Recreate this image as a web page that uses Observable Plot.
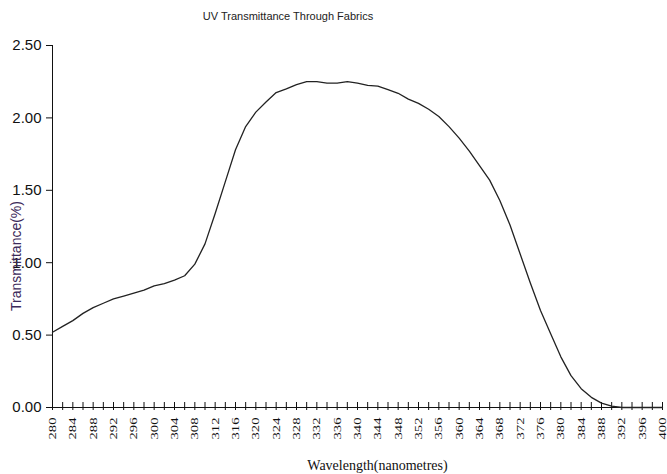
<!DOCTYPE html>
<html>
<head>
<meta charset="utf-8">
<script src="https://cdn.jsdelivr.net/npm/d3@7"></script>
<script src="https://cdn.jsdelivr.net/npm/@observablehq/plot@0.6"></script>
<style>
  body { margin: 0; background: #fff; }
  #wrap { position: relative; width: 667px; height: 474px; overflow: hidden; }
  #title { position: absolute; top: 10px; left: 0; width: 576px; text-align: center;
           font: 11px "Liberation Sans", Arial, sans-serif; color: #222; }
  #chart { position: absolute; top: 30px; left: 0; }
  #ylabel { position: absolute; left: 16px; top: 256px; white-space: nowrap;
            transform: translate(-50%, -50%) rotate(-90deg);
            font: 14px "Liberation Sans", Arial, sans-serif; color: #3c2a5a; line-height: 1; }
</style>
</head>
<body>
<div id="wrap">
  <div id="title"></div>
  <div id="chart"></div>
  <div id="ylabel"></div>
</div>
<script>
const chartTitle = "UV Transmittance Through Fabrics";
const xLabel = "Wavelength(nanometres)";
const yLabel = "Transmittance(%)";

const wavelengths = [
  280, 282, 284, 286, 288, 290, 292, 294, 296, 298,
  300, 302, 304, 306, 308, 310, 312, 314, 316, 318,
  320, 322, 324, 326, 328, 330, 332, 334, 336, 338,
  340, 342, 344, 346, 348, 350, 352, 354, 356, 358,
  360, 362, 364, 366, 368, 370, 372, 374, 376, 378,
  380, 382, 384, 386, 388, 390, 392, 394, 396, 398, 400
];
const transmittance = [
  0.52, 0.56, 0.60, 0.65, 0.69, 0.72, 0.75, 0.77, 0.79, 0.81,
  0.84, 0.855, 0.88, 0.91, 0.99, 1.13, 1.34, 1.56, 1.78, 1.94,
  2.04, 2.11, 2.175, 2.20, 2.23, 2.25, 2.25, 2.24, 2.24, 2.25,
  2.24, 2.225, 2.22, 2.195, 2.17, 2.13, 2.10, 2.06, 2.01, 1.94,
  1.86, 1.77, 1.67, 1.57, 1.43, 1.26, 1.06, 0.86, 0.67, 0.51,
  0.35, 0.22, 0.13, 0.07, 0.03, 0.01, 0.0, 0.0, 0.0, 0.0, 0.0
];
const xMinorTicks = d3.range(280, 401, 2);
const xLabelTicks = d3.range(280, 401, 4);
const yTicks = [0, 0.5, 1.0, 1.5, 2.0, 2.5];

document.getElementById("title").textContent = chartTitle;
document.getElementById("ylabel").textContent = yLabel;

const data = wavelengths.map((w, i) => ({w, t: transmittance[i]}));

const chart = Plot.plot({
  width: 667,
  height: 444,
  marginLeft: 52,
  marginRight: 5,
  marginTop: 15,
  marginBottom: 67,
  style: {fontFamily: "'Liberation Sans', Arial, sans-serif", background: "white", color: "#111"},
  x: {domain: [280, 400]},
  y: {domain: [0, 2.5]},
  marks: [
    Plot.axisY({ticks: yTicks, tickFormat: d3.format(".2f"), tickSize: 6, tickPadding: 5, fontSize: 15, label: null}),
    Plot.axisX({ticks: xMinorTicks, tickSize: 8, dy: -5, tickFormat: () => "", label: null}),
    Plot.axisX({ticks: xLabelTicks, tickSize: 0, tickPadding: 10, tickRotate: -90, tickFormat: d => String(d),
                fontFamily: "'Liberation Serif', 'Times New Roman', serif", fontSize: 11, label: null}),
    Plot.ruleX([280], {stroke: "#111"}),
    Plot.ruleY([0], {stroke: "#111"}),
    Plot.line(data, {x: "w", y: "t", stroke: "#222", strokeWidth: 1.3}),
    Plot.text([xLabel], {frameAnchor: "bottom", dx: 20, dy: 62, fontSize: 14,
                         fontFamily: "'Liberation Serif', 'Times New Roman', serif", fill: "#111"})
  ]
});
document.getElementById("chart").appendChild(chart);

// stretch the rotated x tick labels to match the reference glyph proportions
d3.select(chart).selectAll("g[aria-label='x-axis tick label'] text")
  .attr("textLength", 22).attr("lengthAdjust", "spacingAndGlyphs");
</script>
</body>
</html>
